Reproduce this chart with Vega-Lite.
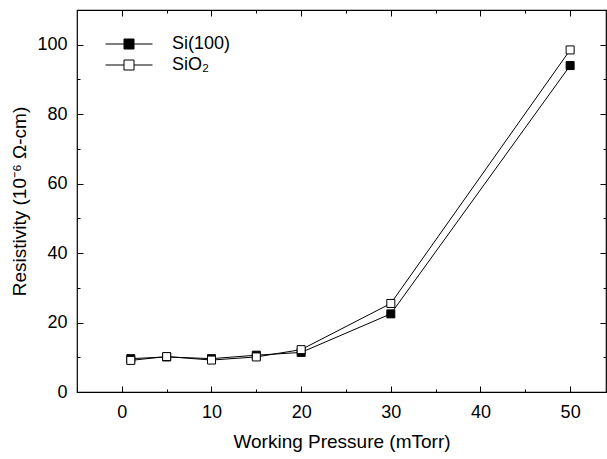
{
  "$schema": "https://vega.github.io/schema/vega-lite/v6.json",
  "width": 529,
  "height": 382,
  "autosize": {"type": "none"},
  "padding": {"left": 77, "top": 10, "right": 1, "bottom": 67},
  "background": "white",
  "config": {
    "font": "Liberation Sans",
    "view": {"stroke": "black", "strokeWidth": 1.2},
    "axis": {"grid": false, "domain": false, "tickColor": "black", "labelColor": "black", "titleColor": "black", "labelFont": "Liberation Sans", "titleFont": "Liberation Sans", "labelFontSize": 18, "titleFontSize": 19, "titleFontWeight": "normal"}
  },
  "data": {
    "values": [
      {"p": 1, "r": 9.6, "s": "Si(100)"},
      {"p": 5, "r": 10.1, "s": "Si(100)"},
      {"p": 10, "r": 9.6, "s": "Si(100)"},
      {"p": 15, "r": 10.6, "s": "Si(100)"},
      {"p": 20, "r": 11.4, "s": "Si(100)"},
      {"p": 30, "r": 22.5, "s": "Si(100)"},
      {"p": 50, "r": 94, "s": "Si(100)"},
      {"p": 1, "r": 9.1, "s": "SiO₂"},
      {"p": 5, "r": 10.2, "s": "SiO₂"},
      {"p": 10, "r": 9.2, "s": "SiO₂"},
      {"p": 15, "r": 10.1, "s": "SiO₂"},
      {"p": 20, "r": 12.2, "s": "SiO₂"},
      {"p": 30, "r": 25.5, "s": "SiO₂"},
      {"p": 50, "r": 98.5, "s": "SiO₂"}
    ]
  },
  "layer": [
    {
      "mark": {"type": "line", "color": "black", "strokeWidth": 1},
      "encoding": {
        "x": {"field": "p", "type": "quantitative", "scale": {"domain": [-5, 54], "nice": false, "zero": false},
          "axis": {"orient": "bottom", "title": "Working Pressure (mTorr)", "values": [-5, 0, 5, 10, 15, 20, 25, 30, 35, 40, 45, 50],
            "labelExpr": "datum.value % 10 === 0 ? datum.label : ''",
            "tickSize": {"condition": {"test": "datum.value % 10 !== 0", "value": -3}, "value": -6},
            "labelPadding": 17, "titlePadding": 8, "labelFlush": false, "labelOverlap": false}},
        "y": {"field": "r", "type": "quantitative", "scale": {"domain": [0, 110], "nice": false},
          "axis": {"orient": "left", "title": "Resistivity (10⁻⁶ Ω-cm)", "values": [0, 10, 20, 30, 40, 50, 60, 70, 80, 90, 100],
            "labelExpr": "datum.value % 20 === 0 ? datum.label : ''",
            "tickSize": {"condition": {"test": "datum.value % 20 !== 0", "value": -3}, "value": -6},
            "labelPadding": 16, "titlePadding": 7, "labelFlush": false, "labelOverlap": false}},
        "detail": {"field": "s", "type": "nominal"}
      }
    },
    {
      "mark": {"type": "point", "shape": "square", "size": 64, "stroke": "black", "strokeWidth": 1, "opacity": 1, "filled": false},
      "encoding": {
        "x": {"field": "p", "type": "quantitative",
          "axis": {"orient": "top", "title": null, "labels": false, "values": [0, 5, 10, 15, 20, 25, 30, 35, 40, 45, 50],
            "tickSize": {"condition": {"test": "datum.value % 10 !== 0", "value": -3}, "value": -6}}},
        "y": {"field": "r", "type": "quantitative",
          "axis": {"orient": "right", "title": null, "labels": false, "values": [10, 20, 30, 40, 50, 60, 70, 80, 90, 100],
            "tickSize": {"condition": {"test": "datum.value % 20 !== 0", "value": -3}, "value": -6}}},
        "fill": {"field": "s", "type": "nominal",
          "scale": {"domain": ["Si(100)", "SiO₂"], "range": ["black", "white"]},
          "legend": {"title": null, "orient": "none", "legendX": 43, "legendY": 25,
            "symbolType": "M-4.7,0H-1M1,0H4.7M-1,-1H1V1H-1Z",
            "symbolSize": 100, "symbolStrokeColor": "black", "symbolStrokeWidth": 1,
            "labelFontSize": 18, "labelFont": "Liberation Sans", "labelColor": "black", "labelOffset": 34, "rowPadding": 3}}
      }
    }
  ],
  "resolve": {"axis": {"x": "independent", "y": "independent"}}
}
